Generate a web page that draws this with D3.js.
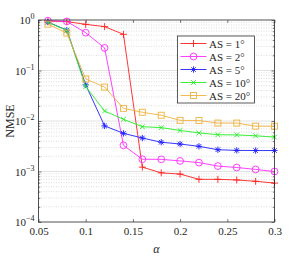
<!DOCTYPE html>
<html>
<head>
<meta charset="utf-8">
<script src="https://cdn.jsdelivr.net/npm/d3@7"></script>
<style>
  body { margin: 0; background: #fff; }
  text { font-family: "Liberation Serif", "DejaVu Serif", serif; fill: #262626; }
</style>
</head>
<body>
<div id="chart"></div>
<script>
// values
const alpha = [0.06, 0.08, 0.1, 0.12, 0.14, 0.16, 0.18, 0.2, 0.22, 0.24, 0.26, 0.28, 0.3];
const as1  = [0.95, 0.93, 0.82, 0.74, 0.52, 1.22e-3, 0.94e-3, 0.89e-3, 0.7e-3, 0.7e-3, 0.68e-3, 0.64e-3, 0.59e-3];
const as2  = [0.97, 0.94, 0.56, 0.28, 3.3e-3, 1.75e-3, 1.74e-3, 1.62e-3, 1.5e-3, 1.28e-3, 1.2e-3, 1.1e-3, 1.0e-3];
const as5  = [0.91, 0.63, 0.052, 8.0e-3, 5.7e-3, 4.6e-3, 3.8e-3, 3.5e-3, 3.15e-3, 2.7e-3, 2.62e-3, 2.6e-3, 2.6e-3];
const as10 = [0.9, 0.62, 0.048, 0.0158, 0.0108, 7.7e-3, 7.4e-3, 6.5e-3, 5.8e-3, 5.35e-3, 5.3e-3, 5.1e-3, 4.8e-3];
const as20 = [0.83, 0.55, 0.068, 0.047, 0.0178, 0.0149, 0.013, 0.0103, 0.0102, 9.1e-3, 9.1e-3, 7.9e-3, 7.9e-3];
const seriesNames = ["AS = 1°", "AS = 2°", "AS = 5°", "AS = 10°", "AS = 20°"];
const xTicks = [0.05, 0.1, 0.15, 0.2, 0.25, 0.3];
const xTickLabels = ["0.05", "0.1", "0.15", "0.2", "0.25", "0.3"];
const yExponents = [0, -1, -2, -3, -4];

const series = [
  { name: seriesNames[0], values: as1, color: "#ff1f1f", marker: "plus" },
  { name: seriesNames[1], values: as2, color: "#ff2bff", marker: "circle" },
  { name: seriesNames[2], values: as5, color: "#1f1fff", marker: "star" },
  { name: seriesNames[3], values: as10, color: "#22ee22", marker: "cross" },
  { name: seriesNames[4], values: as20, color: "#f0b240", marker: "square" }
];

const W = 305, H = 260;
const m = { left: 38.5, right: 30.5, top: 20, bottom: 38 };
const w = W - m.left - m.right, h = H - m.top - m.bottom;

const svg = d3.select("#chart").append("svg")
  .attr("width", W).attr("height", H);
const g = svg.append("g").attr("transform", "translate(" + m.left + "," + m.top + ")");

const x = d3.scaleLinear().domain([0.05, 0.3]).range([0, w]);
const y = d3.scaleLog().domain([1e-4, 1]).range([h, 0]);

// grid: minor dotted, major solid
const minor = [];
for (let e = -4; e < 0; e++) for (let k = 2; k <= 9; k++) minor.push(k * Math.pow(10, e));
g.append("g").selectAll("line").data(minor).join("line")
  .attr("x1", 0).attr("x2", w)
  .attr("y1", d => y(d)).attr("y2", d => y(d))
  .attr("stroke", "#c8c8c8").attr("stroke-width", 0.6).attr("stroke-dasharray", "1,1.5");
g.append("g").selectAll("line").data([-1, -2, -3]).join("line")
  .attr("x1", 0).attr("x2", w)
  .attr("y1", d => y(Math.pow(10, d))).attr("y2", d => y(Math.pow(10, d)))
  .attr("stroke", "#e2e2e2").attr("stroke-width", 1);

// axes with inside ticks
const axisColor = "#262626";
function styleAxis(sel) {
  sel.select(".domain").remove();
  sel.selectAll(".tick line").attr("stroke", axisColor).attr("stroke-width", 0.6);
}
g.append("g").attr("transform", "translate(0," + h + ")")
  .call(d3.axisBottom(x).tickValues(xTicks).tickSize(-3).tickFormat((d, i) => xTickLabels[i]))
  .call(styleAxis)
  .call(s => s.selectAll(".tick text").attr("dy", "0.9em").attr("font-size", 11)
    .style("font-family", "Liberation Serif, serif").attr("fill", axisColor));
g.append("g")
  .call(d3.axisTop(x).tickValues(xTicks).tickSize(-3).tickFormat(""))
  .call(styleAxis);
g.append("g")
  .call(d3.axisLeft(y).tickValues(yExponents.map(e => Math.pow(10, e))).tickSize(-3).tickFormat(""))
  .call(styleAxis);
g.append("g")
  .call(d3.axisLeft(y).tickValues(minor).tickSize(-1.8).tickFormat(""))
  .call(styleAxis);
g.append("g").attr("transform", "translate(" + w + ",0)")
  .call(d3.axisRight(y).tickValues(yExponents.map(e => Math.pow(10, e))).tickSize(-3).tickFormat(""))
  .call(styleAxis);
g.append("g").attr("transform", "translate(" + w + ",0)")
  .call(d3.axisRight(y).tickValues(minor).tickSize(-1.8).tickFormat(""))
  .call(styleAxis);

// y tick labels 10^e
const yl = g.append("g").selectAll("text").data(yExponents).join("text")
  .attr("x", -4).attr("y", d => y(Math.pow(10, d)) + 4)
  .attr("text-anchor", "end").attr("font-size", 11);
yl.append("tspan").text("10");
yl.append("tspan").attr("dy", -5).attr("font-size", 8)
  .text(d => d === 0 ? "0" : "\u2212" + Math.abs(d));

// lines and markers
const line = d3.line().x((d, i) => x(alpha[i])).y(d => y(d));

function drawMarker(sel, type, color) {
  if (type === "plus") {
    sel.append("path").attr("d", "M-3.5,0H3.5M0,-3.5V3.5").attr("stroke", color).attr("stroke-width", 0.9).attr("fill", "none");
  } else if (type === "circle") {
    sel.append("circle").attr("r", 3.4).attr("stroke", color).attr("stroke-width", 0.9).attr("fill", "none");
  } else if (type === "star") {
    sel.append("path").attr("d", "M-3.2,0H3.2M0,-3.2V3.2M-2.3,-2.3L2.3,2.3M-2.3,2.3L2.3,-2.3")
      .attr("stroke", color).attr("stroke-width", 0.9).attr("fill", "none");
  } else if (type === "cross") {
    sel.append("path").attr("d", "M-2.4,-2.4L2.4,2.4M-2.4,2.4L2.4,-2.4").attr("stroke", color).attr("stroke-width", 0.9).attr("fill", "none");
  } else if (type === "square") {
    sel.append("rect").attr("x", -3).attr("y", -3).attr("width", 6).attr("height", 6)
      .attr("stroke", color).attr("stroke-width", 0.9).attr("fill", "none");
  }
}

series.forEach(s => {
  g.append("path").datum(s.values).attr("d", line)
    .attr("fill", "none").attr("stroke", s.color).attr("stroke-width", 0.9);
  s.values.forEach((v, i) => {
    const mk = g.append("g").attr("transform", "translate(" + x(alpha[i]) + "," + y(v) + ")");
    drawMarker(mk, s.marker, s.color);
  });
});

// frame
g.append("rect").attr("width", w).attr("height", h)
  .attr("fill", "none").attr("stroke", axisColor).attr("stroke-width", 0.8);

// legend
const lg = svg.append("g").attr("transform", "translate(177.5,36)");
lg.append("rect").attr("width", 77).attr("height", 67)
  .attr("fill", "#fff").attr("stroke", "#333").attr("stroke-width", 0.8);
series.forEach((s, i) => {
  const row = lg.append("g").attr("transform", "translate(0," + (7.5 + i * 13) + ")");
  row.append("line").attr("x1", 3).attr("x2", 29).attr("stroke", s.color).attr("stroke-width", 0.9);
  const mk = row.append("g").attr("transform", "translate(16,0)");
  drawMarker(mk, s.marker, s.color);
  row.append("text").attr("x", 31.5).attr("y", 4).attr("font-size", 11).text(s.name);
});

// axis labels
svg.append("text").attr("x", m.left + w / 2).attr("y", 253)
  .attr("text-anchor", "middle").attr("font-size", 12).attr("font-style", "italic").text("α");
svg.append("text").attr("transform", "translate(14," + (m.top + h / 2) + ") rotate(-90)")
  .attr("text-anchor", "middle").attr("font-size", 12).text("NMSE");
</script>
</body>
</html>
